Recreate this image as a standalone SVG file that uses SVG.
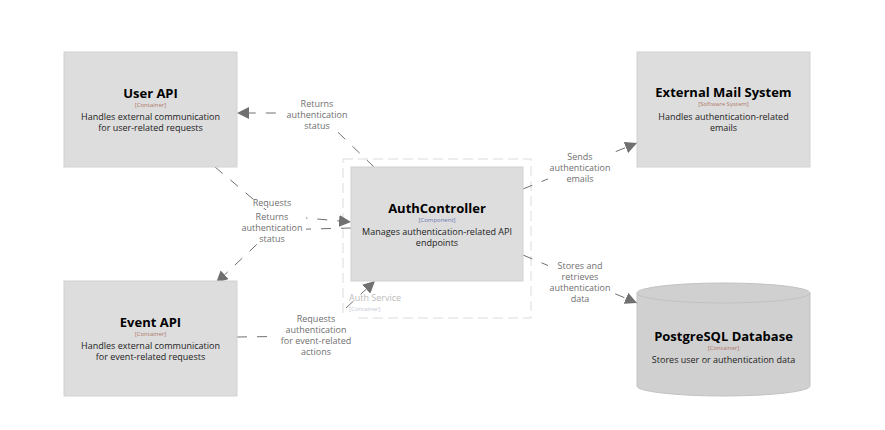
<svg xmlns="http://www.w3.org/2000/svg" width="885" height="430" viewBox="0 0 885 430">
<style>
.box{fill:#dddddd;stroke:#d2d2d2;stroke-width:1}
.db{fill:#d0d0d0;stroke:#c2c2c2;stroke-width:1}
.t{font-family:"Open Sans","Noto Sans",sans-serif;font-weight:bold;font-size:13px;fill:#000;text-anchor:middle}
.ty{font-family:"Open Sans","Noto Sans",sans-serif;font-size:6px;fill:#b07a6a;text-anchor:middle}
.tyc{font-family:"Open Sans","Noto Sans",sans-serif;font-size:6px;fill:#6a7ab0;text-anchor:middle}
.d{font-family:"Open Sans","Noto Sans",sans-serif;font-size:9px;fill:#222;text-anchor:middle}
.e{fill:none;stroke:#707070;stroke-width:1;stroke-dasharray:10,10}
.l{font-family:"Open Sans","Noto Sans",sans-serif;font-size:9px;fill:#707070;text-anchor:middle}
.lb{fill:#fff}
</style>
<defs>
<marker id="arr" viewBox="0 0 10 10" refX="10" refY="5" markerWidth="12" markerHeight="12" markerUnits="userSpaceOnUse" orient="auto">
<path d="M0,0 L10,5 L0,10 z" fill="#707070"/>
</marker>
</defs>
<rect width="885" height="430" fill="#fff"/>
<g id="auth-service">
<rect x="343" y="159" width="188" height="159" fill="none" stroke="#dcdcdc" stroke-width="1" stroke-dasharray="10,5"/>
<text x="349" y="301" font-family="Open Sans, Noto Sans, sans-serif" font-size="9" fill="#bcbcbc">Auth Service</text>
<text x="349" y="311" font-family="Open Sans, Noto Sans, sans-serif" font-size="6" fill="#c4c8d8">[Container]</text>
</g>
<g id="connectors">
<path class="e" d="M374,167 L318,113 L237,113" marker-end="url(#arr)"/>
<path class="e" d="M215,167 L272,215 L351,222" marker-end="url(#arr)"/>
<path class="e" d="M351,228 L272,230 L216,283" marker-end="url(#arr)"/>
<path class="e" d="M237,337 L316,336 L375,281" marker-end="url(#arr)"/>
<path class="e" d="M523,189 L637,143" marker-end="url(#arr)"/>
<path class="e" d="M523,255 L637,303" marker-end="url(#arr)"/>
<g>
<rect class="lb" x="282" y="98" width="70" height="33"/>
<text class="l" x="317" y="107">Returns</text>
<text class="l" x="317" y="118">authentication</text>
<text class="l" x="317" y="129">status</text>
</g>
<g>
<rect class="lb" x="254" y="197" width="36" height="11"/>
<text class="l" x="272" y="206">Requests</text>
</g>
<g>
<rect class="lb" x="240" y="210" width="66" height="34"/>
<text class="l" x="272" y="220">Returns</text>
<text class="l" x="272" y="231">authentication</text>
<text class="l" x="272" y="242">status</text>
</g>
<g>
<rect class="lb" x="276" y="313" width="80" height="44"/>
<text class="l" x="316" y="322">Requests</text>
<text class="l" x="316" y="333">authentication</text>
<text class="l" x="316" y="344">for event-related</text>
<text class="l" x="316" y="355">actions</text>
</g>
<g>
<rect class="lb" x="548" y="151" width="64" height="33"/>
<text class="l" x="580" y="160">Sends</text>
<text class="l" x="580" y="171">authentication</text>
<text class="l" x="580" y="182">emails</text>
</g>
<g>
<rect class="lb" x="548" y="260" width="64" height="44"/>
<text class="l" x="580" y="269">Stores and</text>
<text class="l" x="580" y="280">retrieves</text>
<text class="l" x="580" y="291">authentication</text>
<text class="l" x="580" y="302">data</text>
</g>
</g>
<g id="user-api">
<rect class="box" x="64" y="52" width="173" height="115"/>
<text class="t" x="150.5" y="98">User API</text>
<text class="ty" x="150.5" y="107">[Container]</text>
<text class="d" x="150.5" y="120">Handles external communication</text>
<text class="d" x="150.5" y="131">for user-related requests</text>
</g>
<g id="event-api">
<rect class="box" x="64" y="281" width="173" height="115"/>
<text class="t" x="150.5" y="327">Event API</text>
<text class="ty" x="150.5" y="336">[Container]</text>
<text class="d" x="150.5" y="349">Handles external communication</text>
<text class="d" x="150.5" y="360">for event-related requests</text>
</g>
<g id="auth-controller">
<rect class="box" x="351" y="167" width="172" height="114"/>
<text class="t" x="437" y="213">AuthController</text>
<text class="tyc" x="437" y="222">[Component]</text>
<text class="d" x="437" y="235">Manages authentication-related API</text>
<text class="d" x="437" y="246">endpoints</text>
</g>
<g id="external-mail">
<rect class="box" x="637" y="52" width="173" height="115"/>
<text class="t" x="723.5" y="97">External Mail System</text>
<text class="ty" x="723.5" y="106">[Software System]</text>
<text class="d" x="723.5" y="120">Handles authentication-related</text>
<text class="d" x="723.5" y="131">emails</text>
</g>
<g id="postgres">
<path class="db" d="M637,293 A86.5,10 0 0 1 810,293 L810,386 A86.5,10 0 0 1 637,386 Z"/>
<path d="M637,293 A86.5,10 0 0 0 810,293" fill="none" stroke="#c2c2c2" stroke-width="1"/>
<text class="t" x="723.5" y="341">PostgreSQL Database</text>
<text class="ty" x="723.5" y="350">[Container]</text>
<text class="d" x="723.5" y="363">Stores user or  authentication data</text>
</g>
</svg>
